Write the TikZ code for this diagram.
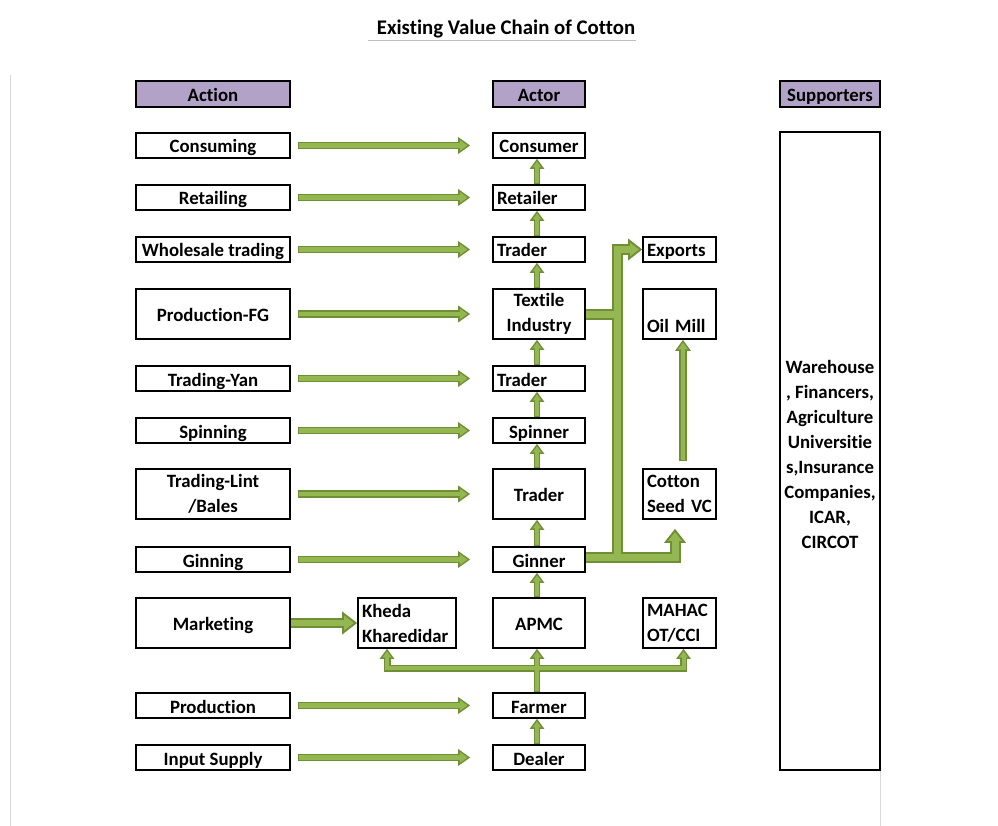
\documentclass[tikz,border=0pt]{standalone}
\usepackage{fontspec}
\setmainfont{Carlito}[Ligatures={NoCommon}]
\usetikzlibrary{arrows.meta,calc}
\pgfdeclarelayer{bg}\pgfdeclarelayer{arrout}\pgfdeclarelayer{arrin}
\pgfsetlayers{bg,arrout,arrin,main}
\definecolor{gdark}{HTML}{6F8F36}
\definecolor{glight}{HTML}{94B752}
\definecolor{hpurple}{HTML}{B3A2C7}
\newcommand\barrow[2]{%
 \begin{pgfonlayer}{arrout}\draw[#1D] #2;\end{pgfonlayer}%
 \begin{pgfonlayer}{arrin}\draw[#1L] #2;\end{pgfonlayer}}
\tikzset{
 box/.style={draw, line width=1.6pt, inner xsep=4pt, inner ysep=2pt,
   font=\fontsize{18.8}{25}\selectfont\bfseries, align=center},
 one/.style={text height=17pt, text depth=2pt},
 hdr/.style={box, one, fill=hpurple},
 hD/.style={color=gdark, line width=7.5pt, -{Triangle[width=16pt,length=12pt]}},
 hL/.style={color=glight, line width=4.5pt, -{Triangle[width=10.4pt,length=7.6pt]}, shorten >=2.7pt, shorten <=1.5pt},
 vD/.style={color=gdark, line width=6.5pt, -{Triangle[width=14pt,length=10pt]}},
 vL/.style={color=glight, line width=3.5pt, -{Triangle[width=8.2pt,length=5.9pt]}, shorten >=2.6pt, shorten <=1.5pt},
 fD/.style={color=gdark, line width=7pt, line join=miter, -{Triangle[width=14pt,length=10pt]}},
 fL/.style={color=glight, line width=4pt, line join=miter, -{Triangle[width=8.2pt,length=5.9pt]}, shorten >=2.6pt},
 bD/.style={color=gdark, line width=11pt, line join=miter, -{Triangle[width=21pt,length=14pt]}},
 bL/.style={color=glight, line width=7pt, line join=miter, -{Triangle[width=13pt,length=8.7pt]}, shorten >=3.3pt},
 nD/.style={color=gdark, line width=11pt},
 nL/.style={color=glight, line width=7pt},
 mD/.style={color=gdark, line width=10pt, -{Triangle[width=22pt,length=15pt]}},
 mL/.style={color=glight, line width=6pt, -{Triangle[width=14.1pt,length=9.6pt]}, shorten >=3.4pt},
 oD/.style={color=gdark, line width=7.5pt, -{Triangle[width=15pt,length=11pt]}},
 oL/.style={color=glight, line width=4.5pt, -{Triangle[width=9.3pt,length=6.8pt]}, shorten >=2.7pt, shorten <=1.5pt},
}
\begin{document}
\begin{tikzpicture}[x=1pt,y=-1pt]
\begin{pgfonlayer}{bg}\fill[white] (0,0) rectangle (998,826);\end{pgfonlayer}
\useasboundingbox (0,0) rectangle (998,826);
% faint page lines
\draw[black!15, line width=0.8pt] (10,75) -- (10,826);
\draw[black!15, line width=0.8pt] (880,770) -- (880,826);
% title
\node[font=\fontsize{20.8}{24}\selectfont\bfseries] (title) at (506,28.5) {Existing Value Chain of Cotton};
\draw[black!25, line width=0.8pt] (368,40.5) -- (636,40.5);
% headers
\node[hdr, minimum width=154pt, minimum height=26pt] (hact) at (213,94) {Action};
\node[hdr, minimum width=92pt, minimum height=26pt] (hactor) at (539,94) {Actor};
\node[hdr, minimum width=100pt, minimum height=26pt] (hsup) at (830,94) {Supporters};
% action column
\tikzset{ab/.style={box, minimum width=154pt}}
\node[ab, one, minimum height=25pt] (a1) at (213,145.5) {Consuming};
\node[ab, one, minimum height=25pt] (a2) at (213,197.5) {Retailing};
\node[ab, one, minimum height=25pt] (a3) at (213,249.5) {Wholesale trading};
\node[ab, one, minimum height=50pt] (a4) at (213,314) {Production-FG};
\node[ab, one, minimum height=25pt] (a5) at (213,378.5) {Trading-Yan};
\node[ab, one, minimum height=25pt] (a6) at (213,430.5) {Spinning};
\node[ab, minimum height=50pt] (a7) at (213,494) {Trading-Lint\\/Bales};
\node[ab, one, minimum height=25pt] (a8) at (213,559.5) {Ginning};
\node[ab, one, minimum height=50pt] (a9) at (213,623) {Marketing};
\node[ab, one, minimum height=25pt] (a10) at (213,705.5) {Production};
\node[ab, one, minimum height=25pt] (a11) at (213,757.5) {Input Supply};
% actor column
\tikzset{rb/.style={box, minimum width=92pt}, rl/.style={rb, text width=84pt, align=left}}
\node[rb, one, minimum height=25pt] (r1) at (539,145.5) {Consumer};
\node[rl, one, minimum height=25pt] (r2) at (539,197.5) {Retailer};
\node[rl, one, minimum height=25pt] (r3) at (539,249.5) {Trader};
\node[rb, minimum height=50pt] (r4) at (539,314) {Textile\\Industry};
\node[rl, one, minimum height=25pt] (r5) at (539,378.5) {Trader};
\node[rb, one, minimum height=25pt] (r6) at (539,430.5) {Spinner};
\node[rb, one, minimum height=50pt] (r7) at (539,494) {Trader};
\node[rb, one, minimum height=25pt] (r8) at (539,559.5) {Ginner};
\node[rb, one, minimum height=50pt] (r9) at (539,623) {APMC};
\node[rb, one, minimum height=25pt] (r10) at (539,705.5) {Farmer};
\node[rb, one, minimum height=25pt] (r11) at (539,757.5) {Dealer};
% right column
\tikzset{xb/.style={box, minimum width=73pt, text width=65pt, align=left}}
\node[xb, one, minimum height=25pt] (exports) at (679.5,249.5) {Exports};
\node[xb, text height=39pt, text depth=2pt, minimum height=50pt] (oil) at (679.5,314) {Oil Mill};
\node[xb, minimum height=50pt] (cotton) at (679.5,494) {Cotton\\Seed VC};
\node[xb, minimum height=50pt] (mah) at (679.5,623) {MAHAC\\OT/CCI};
\node[box, minimum width=98pt, text width=90pt, align=left, minimum height=50pt] (kheda) at (407,623) {Kheda\\Kharedidar};
% supporters
\node[box, minimum width=100pt, minimum height=638pt] (sup) at (830,451) {};
\node[font=\fontsize{18.8}{25}\selectfont\bfseries, align=center] (supt) at (830,454)
  {Warehouse\\, Financers,\\Agriculture\\Universitie\\s,Insurance\\Companies,\\ICAR,\\CIRCOT};
% horizontal action -> actor arrows
\foreach \i in {1,...,8,10,11}{
  \barrow{h}{([xshift=7pt]a\i.east) -- ([xshift=-22pt]r\i.west)}
}
% vertical actor arrows
\foreach \lo/\up in {2/1,3/2,4/3,5/4,6/5,7/6,8/7,9/8,10/9,11/10}{
  \barrow{v}{([xshift=-2pt]r\lo.north) -- ([xshift=-2pt]r\up.south)}
}
% marketing -> kheda
\barrow{m}{(a9.east) -- (kheda.west)}
% ginner / textile branches
\coordinate (gj) at (617,557);
\barrow{b}{(r8.east |- gj) -- (675,557) -- ([shift={(-4.5pt,-9pt)}]cotton.south)}
\barrow{b}{(gj) |- (exports.west)}
\barrow{n}{(r4.east) -- (r4.east -| gj)}
% cotton seed -> oil mill
\barrow{o}{([shift={(3.5pt,7pt)}]cotton.north) -- ([xshift=3.5pt]oil.south)}
% farmer tree
\coordinate (fj) at (537,668);
\barrow{f}{(fj) -| ([xshift=-20pt]kheda.south)}
\barrow{f}{(fj) -| ([xshift=4pt]mah.south)}
\end{tikzpicture}
\end{document}
